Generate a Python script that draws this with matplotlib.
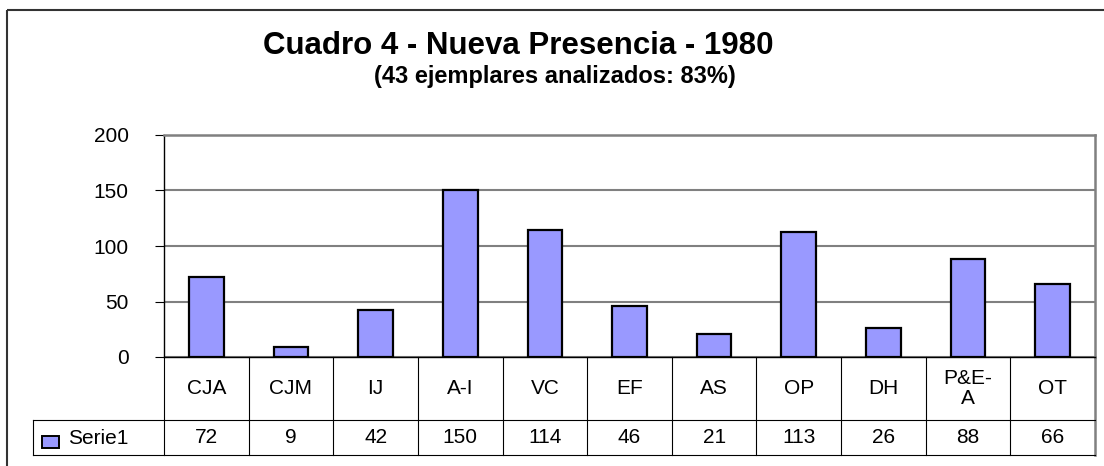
import matplotlib.pyplot as plt
from matplotlib.patches import Rectangle
from matplotlib.lines import Line2D

plt.rcParams["font.family"] = ["Liberation Sans", "DejaVu Sans"]

CATEGORIES = ["CJA", "CJM", "IJ", "A-I", "VC", "EF", "AS", "OP", "DH", "P&E-\nA", "OT"]
VALUES = [72, 9, 42, 150, 114, 46, 21, 113, 26, 88, 66]
SERIES_NAME = "Serie1"
Y_TICKS = [0, 50, 100, 150, 200]

TITLE = "Cuadro 4 - Nueva Presencia - 1980"
SUBTITLE = "(43 ejemplares analizados: 83%)"

BAR_COLOR = "#9999ff"
GRID_COLOR = "#808080"

W, H = 1104, 466


def px(x, y):
    # pixel coords (from top-left) to figure fraction
    return x / W, 1 - y / H


fig = plt.figure(figsize=(W / 100, H / 100), dpi=100)

# outer chart frame (runs off the right and bottom edges)
fig.patches.append(Rectangle(px(7, 10), (1120 - 7) / W, -(490 - 10) / H,
                             transform=fig.transFigure, fill=False,
                             edgecolor="#333333", linewidth=1.5))

left, top, right, bottom = 164, 135, 1095, 357
ax = fig.add_axes([left / W, 1 - bottom / H, (right - left) / W, (bottom - top) / H])

n = len(CATEGORIES)
xs = list(range(n))
ax.bar(xs, VALUES, width=0.41, color=BAR_COLOR, edgecolor="black", linewidth=1.6, zorder=3)

ax.set_xlim(-0.5, n - 0.5)
ax.set_ylim(0, 200)
ax.set_yticks(Y_TICKS)
ax.set_yticklabels([str(t) for t in Y_TICKS], fontsize=15)
ax.tick_params(axis="y", length=6.5, width=0.8, pad=19, color="black")
ax.set_xticks([])
ax.yaxis.grid(True, color=GRID_COLOR, linewidth=1.5)
ax.set_axisbelow(True)

for side in ["top", "right"]:
    ax.spines[side].set_color(GRID_COLOR)
    ax.spines[side].set_linewidth(1.8)
ax.spines["left"].set_color("black")
ax.spines["left"].set_linewidth(1.0)
ax.spines["bottom"].set_color("black")
ax.spines["bottom"].set_linewidth(1.0)

# data table below the axis
row1 = -(420 - bottom) / (bottom - top)
row2 = -(455 - bottom) / (bottom - top)
tab = ax.get_xaxis_transform()
line_kw = dict(transform=tab, color="black", linewidth=0.8, clip_on=False)

for i in range(n + 1):
    xb = i - 0.5
    color = GRID_COLOR if i == n else "black"
    lw = 1.8 if i == n else 0.8
    ax.add_line(Line2D([xb, xb], [0, row2], transform=tab, color=color,
                       linewidth=lw, clip_on=False))

label_left = ax.transData.inverted().transform(fig.transFigure.transform(px(33, 0)))[0]
for yb in [row1, row2]:
    ax.add_line(Line2D([label_left, n - 0.5], [yb, yb], **line_kw))
ax.add_line(Line2D([label_left, label_left], [row1, row2], **line_kw))

for i, (cat, val) in enumerate(zip(CATEGORIES, VALUES)):
    ax.text(i, row1 / 2, cat, transform=tab, ha="center", va="center",
            fontsize=15, linespacing=1.1, clip_on=False)
    ax.text(i, (row1 + row2) / 2, str(val), transform=tab, ha="center",
            va="center", fontsize=15, clip_on=False)

# legend key in the table
kx, ky = px(42, 448)
fig.patches.append(Rectangle((kx, ky), 17 / W, 12 / H, transform=fig.transFigure,
                             facecolor=BAR_COLOR, edgecolor="black", linewidth=1.4))
tx, ty = px(68, 438)
fig.text(tx, ty, SERIES_NAME, ha="left", va="center", fontsize=15)

# titles
fig.text(*px(518, 46), TITLE, ha="center", va="center", fontsize=22.5, fontweight="bold")
fig.text(*px(555, 76), SUBTITLE, ha="center", va="center", fontsize=17, fontweight="bold")

fig.savefig("out.png", dpi=100)
